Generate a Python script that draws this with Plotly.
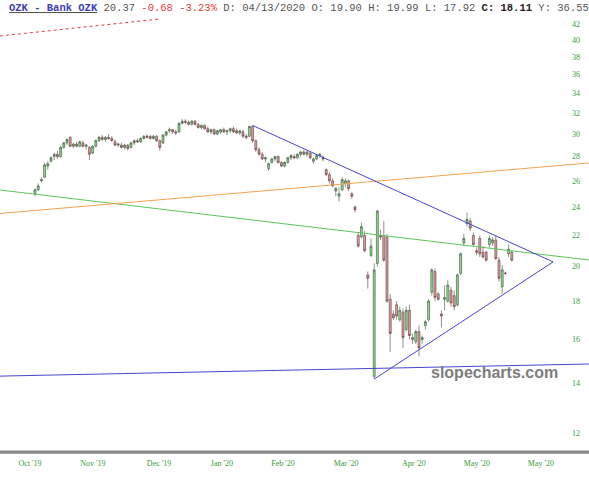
import plotly.graph_objects as go

# ---- data (trading-day index, prices) ----
opens = [25.0, 25.3, 26.0, 26.3, 27.2, 27.6, 28.0, 28.2, 28.0, 28.8,
         29.2, 29.7, 28.9, 29.1, 28.9, 29.2, 28.9, 28.8, 28.3, 28.9,
         29.4, 29.7, 29.5, 29.7, 29.6, 29.3, 29.0, 29.0, 28.8, 29.0,
         28.8, 29.2, 29.4, 29.3, 29.6, 29.8, 29.8, 29.6, 29.8, 29.4,
         29.2, 29.9, 30.3, 30.4, 30.2, 30.2, 31.0, 31.2, 31.1, 30.9,
         31.2, 30.9, 30.6, 30.8, 30.5, 30.2, 30.4, 30.0, 30.2, 30.4,
         30.2, 30.3, 30.5, 30.3, 30.1, 30.2, 29.8, 29.8, 30.7, 29.4,
         28.6, 28.2, 27.8, 27.0, 27.5, 27.8, 28.0, 27.5, 27.2, 27.5,
         27.9, 28.0, 27.9, 28.2, 28.4, 28.2, 28.3, 27.6, 27.8, 28.1,
         27.9, 26.9, 26.5, 26.0, 25.2, 24.8, 25.3, 25.8, 26.0, 25.0,
         24.0, 22.0, 21.9, 22.0, 19.5, 20.7, 14.3, 20.2, 22.0, 22.0,
         21.9, 18.1, 17.3, 17.8, 17.0, 17.4, 16.5, 17.5, 16.1, 15.9,
         16.4, 16.0, 16.7, 17.0, 18.5, 19.7, 18.4, 17.3, 18.1, 18.0,
         18.6, 18.3, 17.8, 19.6, 21.5, 22.8, 23.0, 22.0, 21.0, 21.8,
         20.9, 20.9, 21.4, 21.5, 21.7, 20.4, 18.8, 19.6, 20.8, 20.9]
highs = [25.4, 25.8, 26.3, 27.5, 27.6, 28.0, 28.3, 28.5, 28.9, 29.3,
         29.6, 29.8, 29.2, 29.3, 29.4, 29.4, 29.1, 28.9, 29.0, 29.5,
         29.8, 29.9, 29.8, 30.0, 29.8, 29.5, 29.2, 29.2, 29.1, 29.1,
         29.3, 29.5, 29.6, 29.7, 29.9, 30.0, 29.9, 29.9, 29.9, 29.5,
         30.0, 30.3, 30.6, 30.5, 30.4, 31.1, 31.4, 31.4, 31.3, 31.3,
         31.3, 31.0, 30.9, 30.9, 30.7, 30.5, 30.5, 30.4, 30.5, 30.6,
         30.4, 30.6, 30.7, 30.5, 30.4, 30.4, 30.0, 30.8, 30.8, 29.5,
         28.8, 28.4, 28.0, 27.5, 27.9, 28.1, 28.1, 27.6, 27.6, 28.0,
         28.2, 28.2, 28.3, 28.5, 28.6, 28.5, 28.5, 27.9, 28.2, 28.3,
         28.1, 27.0, 26.7, 26.2, 25.5, 25.5, 26.3, 26.2, 26.1, 25.1,
         24.1, 22.2, 22.9, 22.3, 19.7, 21.8, 20.2, 23.8, 22.4, 23.0,
         22.1, 18.4, 17.5, 18.0, 17.7, 17.6, 17.7, 17.8, 16.3, 16.5,
         16.7, 16.2, 17.0, 18.1, 19.9, 19.9, 18.5, 17.5, 18.9, 19.2,
         18.8, 18.6, 19.6, 20.9, 22.1, 23.6, 23.2, 22.2, 21.2, 22.0,
         21.3, 21.0, 22.0, 21.9, 22.0, 20.6, 20.1, 19.7, 21.4, 21.0]
lows = [24.8, 25.2, 25.9, 26.2, 26.9, 27.5, 27.7, 27.8, 27.9, 28.7,
        29.0, 28.8, 28.7, 28.8, 28.8, 28.8, 28.6, 27.7, 28.2, 28.8,
        29.3, 29.4, 29.3, 29.5, 29.3, 28.9, 28.8, 28.7, 28.6, 28.5,
        28.7, 29.0, 29.2, 29.2, 29.5, 29.6, 29.5, 29.5, 29.3, 28.5,
        29.1, 29.8, 30.1, 30.0, 29.9, 30.1, 30.9, 30.9, 30.8, 30.8,
        30.8, 30.5, 30.4, 30.4, 30.1, 30.0, 29.9, 29.9, 30.0, 30.1,
        29.9, 30.1, 30.1, 30.0, 29.9, 29.6, 29.5, 29.7, 29.2, 28.4,
        28.1, 27.7, 27.5, 26.8, 27.4, 27.6, 27.4, 27.1, 27.1, 27.4,
        27.7, 27.8, 27.8, 28.0, 28.1, 28.0, 27.8, 27.4, 27.7, 27.9,
        27.6, 26.4, 25.8, 25.5, 24.8, 24.4, 25.2, 25.5, 25.2, 24.6,
        23.6, 21.2, 21.8, 20.9, 18.7, 20.6, 14.18, 20.0, 21.7, 20.3,
        17.9, 15.4, 17.0, 17.0, 16.9, 15.6, 16.4, 16.0, 15.8, 15.8,
        15.2, 15.8, 16.5, 16.9, 18.3, 18.0, 18.0, 16.6, 17.5, 17.9,
        17.7, 17.5, 17.7, 19.5, 21.3, 22.6, 22.3, 21.3, 20.7, 20.6,
        20.5, 20.3, 21.2, 21.3, 20.4, 19.1, 18.4, 19.5, 20.6, 20.3]
closes = [25.3, 25.6, 26.1, 27.3, 27.4, 27.9, 28.2, 28.0, 28.8, 29.2,
          29.5, 28.9, 29.1, 28.9, 29.3, 28.9, 29.0, 28.2, 28.9, 29.4,
          29.7, 29.5, 29.7, 29.6, 29.4, 29.0, 29.1, 28.8, 29.0, 28.7,
          29.2, 29.4, 29.3, 29.6, 29.8, 29.7, 29.6, 29.8, 29.4, 28.8,
          29.9, 30.2, 30.4, 30.2, 30.1, 31.0, 31.2, 31.1, 30.9, 31.2,
          30.9, 30.6, 30.8, 30.5, 30.2, 30.4, 30.0, 30.3, 30.4, 30.2,
          30.3, 30.5, 30.2, 30.1, 30.3, 29.8, 29.7, 30.7, 29.4, 28.6,
          28.2, 27.8, 27.9, 27.4, 27.8, 28.0, 27.5, 27.2, 27.5, 27.9,
          28.1, 27.9, 28.2, 28.4, 28.2, 28.4, 27.9, 27.8, 28.1, 28.2,
          27.8, 26.5, 26.0, 25.6, 25.4, 25.0, 26.1, 26.0, 25.4, 24.8,
          23.8, 21.3, 22.6, 21.0, 19.3, 21.3, 19.8, 23.7, 21.9, 20.4,
          18.0, 16.3, 17.1, 17.2, 17.5, 16.1, 17.5, 16.2, 16.0, 16.4,
          15.6, 16.1, 16.9, 18.0, 19.8, 18.2, 18.1, 17.2, 18.2, 18.9,
          17.9, 17.7, 19.5, 20.8, 21.8, 23.1, 22.5, 21.4, 20.9, 20.8,
          20.6, 20.4, 21.8, 21.7, 20.5, 19.3, 19.8, 19.6, 21.1, 20.4]
day_index = list(range(len(closes)))

x_tick_pos = [-1.56, 18.1, 38.75, 58.4, 77.5, 97.2, 118.4, 138.1, 158.1]
x_tick_text = ["Oct '19", "Nov '19", "Dec '19", "Jan '20", "Feb '20",
               "Mar '20", "Apr '20", "May '20", "May '20"]
y_tick_vals = [12, 14, 16, 18, 20, 22, 24, 26, 28, 30, 32, 34, 36, 38, 40, 42]

# trend lines: (index, price) endpoints
green_x, green_y = [-10.94, 173.1], [25.28, 20.41]
orange_x, orange_y = [-10.94, 173.1], [23.53, 27.46]
support_x, support_y = [-10.94, 173.1], [14.31, 14.85]
upper_x, upper_y = [68, 161.9], [30.8, 20.29]
lower_x, lower_y = [106, 161.9], [14.18, 20.29]
red_x, red_y = [-10.94, 39.06], [40.49, 42.65]

fig = go.Figure()
fig.add_trace(go.Candlestick(
    x=day_index, open=opens, high=highs, low=lows, close=closes,
    increasing=dict(fillcolor="#8fda8b", line=dict(color="#3c523c", width=0.6)),
    decreasing=dict(fillcolor="#dea0a0", line=dict(color="#5a3a3a", width=0.6)),
    whiskerwidth=0, showlegend=False, hoverinfo="skip"))

def add_line(xs, ys, color, dash="solid"):
    fig.add_trace(go.Scatter(x=xs, y=ys, mode="lines",
                             line=dict(color=color, width=1, dash=dash),
                             showlegend=False, hoverinfo="skip"))

add_line(green_x, green_y, "#5cc45c")
add_line(orange_x, orange_y, "#f3a254")
add_line(support_x, support_y, "#4646d0")
add_line(upper_x, upper_y, "#4646d0")
add_line(lower_x, lower_y, "#4646d0")
add_line(red_x, red_y, "#e04040", dash="dot")

tick_font = dict(family="Liberation Serif", size=8, color="#3a9a3a")

fig.update_layout(
    width=589, height=480,
    margin=dict(l=0, r=0, t=15, b=29),
    paper_bgcolor="white", plot_bgcolor="white",
    boxgap=0.12,
    xaxis=dict(type="linear", range=[-10.94, 173.125],
               rangeslider=dict(visible=False),
               showgrid=False, zeroline=False,
               tickmode="array", tickvals=x_tick_pos, ticktext=x_tick_text,
               tickfont=tick_font, ticks="", ticklabelstandoff=6,
               showline=False),
    yaxis=dict(type="log", range=[1.05618, 1.63521], side="right",
               showgrid=False, zeroline=False, showline=False,
               tickmode="array", tickvals=y_tick_vals,
               ticktext=[str(v) for v in y_tick_vals],
               ticklabelposition="inside", ticks="",
               ticklabelstandoff=6, tickfont=tick_font),
    shapes=[dict(type="rect", xref="paper", yref="paper", x0=0, x1=1,
                 y0=-0.005, y1=0.0, fillcolor="#8a8a8a",
                 line=dict(color="#8a8a8a", width=1), layer="above")],
)

header = ("<span style='text-decoration:underline'><b><span style='color:#3b3bb0'>OZK - Bank OZK</span></b></span>"
          "<span style='color:#555'> 20.37 </span>"
          "<span style='color:#e23c3c'>-0.68 -3.23%</span>"
          "<span style='color:#555'> D: 04/13/2020 O: 19.90 H: 19.99 L: 17.92 </span>"
          "<b><span style='color:#222'>C: 18.11</span></b>"
          "<span style='color:#555'> Y: 36.55</span>")
fig.add_annotation(text=header, xref="paper", yref="paper", x=0.0127, y=1.016,
                   xanchor="left", yanchor="middle", showarrow=False,
                   font=dict(family="Liberation Mono", size=10.5, color="#555"))

fig.add_annotation(text="<b>slopecharts.com</b>", xref="paper", yref="paper",
                   x=0.8404, y=0.1789, xanchor="center", yanchor="middle",
                   showarrow=False,
                   font=dict(family="Liberation Sans", size=16, color="#7d7d7d"))

fig.write_html("out.html", config={"displayModeBar": False},
               post_script="document.body.style.margin='0px';document.body.style.overflow='hidden';")
